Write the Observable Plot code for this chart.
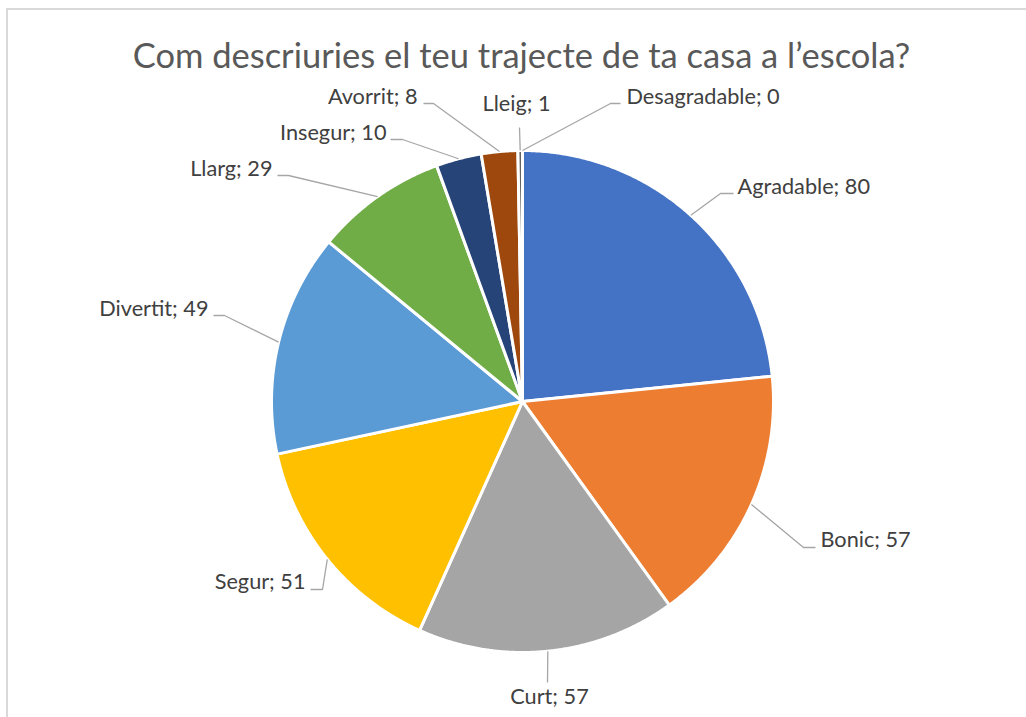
<!DOCTYPE html>
<html><head><meta charset="utf-8">
<script src="https://cdn.jsdelivr.net/npm/d3@7"></script>
<script src="https://cdn.jsdelivr.net/npm/@observablehq/plot@0.6"></script>
<style>
body{margin:0;overflow:hidden;background:#fff;font-family:Lato,"Open Sans",sans-serif;}
#wrap{position:relative;width:1026px;height:717px;overflow:hidden;}
#border{position:absolute;left:6px;top:8px;width:1200px;height:900px;border-left:2px solid #d9d9d9;border-top:2px solid #d9d9d9;}
#title{position:absolute;left:0;top:0;width:1043px;height:84px;text-align:center;font-size:34.5px;line-height:34.5px;color:#595959;padding-top:38px;box-sizing:border-box;white-space:nowrap;}
#chart{position:absolute;left:0;top:84px;}
</style></head>
<body>
<div id="wrap"><div id="border"></div><div id="title"></div><div id="chart"></div></div>
<script>
const title = "Com descriuries el teu trajecte de ta casa a l’escola?";
const categories = ["Agradable","Bonic","Curt","Segur","Divertit","Llarg","Insegur","Avorrit","Lleig","Desagradable"];
const values = [80,57,57,51,49,29,10,8,1,0];
const colors = ["#4472C4","#ED7D31","#A5A5A5","#FFC000","#5B9BD5","#70AD47","#264478","#9E480E","#636363","#997300"];

// layout (page pixels)
const W = 1026, H = 717, TITLE_H = 84, CX = 522, CY = 401, R = 251;
const labelLayout = [
  {bend:[720,193], end:[733,193], anchor:"start",  pos:[737,187]},
  {bend:[803,547], end:[815,547], anchor:"start",  pos:[820,540]},
  {bend:[547,682], end:[547,682], anchor:"middle", pos:[549,697]},
  {bend:[322,589], end:[310,589], anchor:"end",    pos:[305,582]},
  {bend:[224,315], end:[213,315], anchor:"end",    pos:[208,309]},
  {bend:[288,175], end:[277,175], anchor:"end",    pos:[272,169]},
  {bend:[402,139], end:[390,139], anchor:"end",    pos:[386,133]},
  {bend:[433,103], end:[423,103], anchor:"end",    pos:[417,97]},
  {bend:[519,127], end:[519,127], anchor:"middle", pos:[516,104]},
  {bend:[610,103], end:[620,103], anchor:"start",  pos:[626,97]}
];

document.getElementById("title").textContent = title;

const arcs = d3.pie().sort(null).value((d, i) => values[i])(categories);

// slice outlines
const slicePts = [];
arcs.forEach((a, i) => {
  const key = categories[i];
  slicePts.push({key, color: colors[i], x: 0, y: 0});
  const n = Math.max(2, Math.ceil((a.endAngle - a.startAngle) / 0.005));
  for (let k = 0; k <= n; k++) {
    const t = a.startAngle + (a.endAngle - a.startAngle) * k / n;
    slicePts.push({key, color: colors[i], x: R * Math.sin(t), y: -R * Math.cos(t)});
  }
  slicePts.push({key, color: colors[i], x: 0, y: 0});
});

// leader lines
const leaderPts = [];
const labels = [];
arcs.forEach((a, i) => {
  const key = categories[i];
  const m = (a.startAngle + a.endAngle) / 2;
  const L = labelLayout[i];
  leaderPts.push({key, x: R * Math.sin(m), y: -R * Math.cos(m)});
  leaderPts.push({key, x: L.bend[0] - CX, y: L.bend[1] - CY});
  leaderPts.push({key, x: L.end[0] - CX, y: L.end[1] - CY});
  labels.push({text: `${key}; ${values[i]}`, anchor: L.anchor, x: L.pos[0] - CX, y: L.pos[1] - CY});
});

const txt = (anchor) => Plot.text(labels.filter(d => d.anchor === anchor), {
  x: "x", y: "y", text: "text", textAnchor: anchor, fill: "#404040",
  fontSize: 21.7, fontFamily: "Lato"
});

const chart = Plot.plot({
  width: W, height: H - TITLE_H, margin: 0,
  x: {domain: [-CX, W - CX], range: [0, W], axis: null},
  y: {domain: [-(CY - TITLE_H), H - CY], range: [0, H - TITLE_H], axis: null},
  color: {type: "identity"},
  style: {background: "transparent", overflow: "visible"},
  marks: [
    Plot.line(slicePts, {x: "x", y: "y", z: "key", fill: "color", stroke: "white", strokeWidth: 3, curve: "linear"}),
    Plot.line(leaderPts, {x: "x", y: "y", z: "key", stroke: "#A6A6A6", strokeWidth: 1.3, strokeLinecap: "butt", strokeLinejoin: "miter"}),
    txt("start"), txt("end"), txt("middle")
  ]
});
document.getElementById("chart").appendChild(chart);
</script>
</body></html>
